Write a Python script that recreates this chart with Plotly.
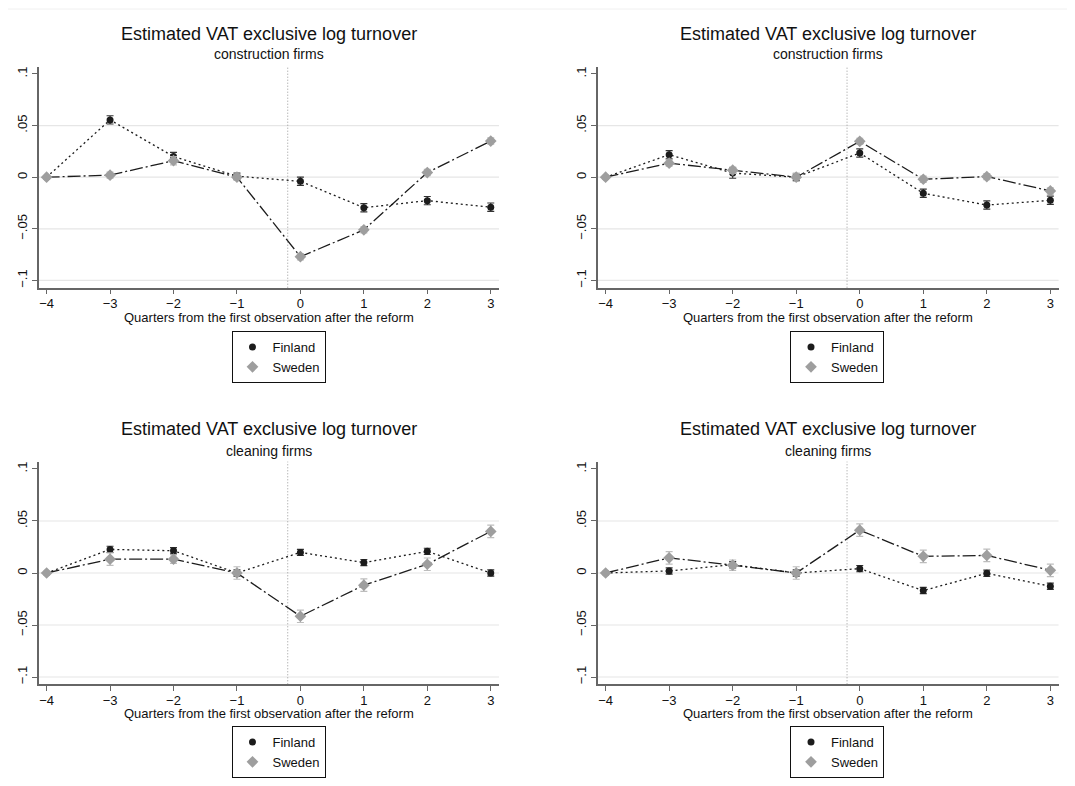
import plotly.graph_objects as go

# ---------------- data ----------------
quarters = [-4, -3, -2, -1, 0, 1, 2, 3]
x_tick_labels = ["\u22124", "\u22123", "\u22122", "\u22121", "0", "1", "2", "3"]
y_tick_values = [-0.1, -0.05, 0, 0.05, 0.1]
y_tick_labels = ["\u2212.1", "\u2212.05", "0", ".05", ".1"]
grid_values = [-0.1, -0.05, 0, 0.05]
reform_line_x = -0.2

titles = ["Estimated VAT exclusive log turnover"] * 4
subtitles = ["construction firms", "construction firms", "cleaning firms", "cleaning firms"]
x_title = "Quarters from the first observation after the reform"
series_names = ["Finland", "Sweden"]

constr_left_fin = [0, 0.0555, 0.020, 0.001, -0.004, -0.0295, -0.0227, -0.029]
constr_left_fin_err = [0, 0.004, 0.004, 0.003, 0.004, 0.004, 0.004, 0.004]
constr_left_swe = [0, 0.002, 0.016, 0.0, -0.077, -0.051, 0.0045, 0.035]
constr_left_swe_err = [0, 0.003, 0.004, 0.003, 0.003, 0.003, 0.003, 0.003]

constr_right_fin = [0, 0.0218, 0.004, 0.0, 0.0234, -0.0156, -0.027, -0.0224]
constr_right_fin_err = [0, 0.004, 0.005, 0.003, 0.004, 0.004, 0.004, 0.004]
constr_right_swe = [0, 0.0136, 0.0068, 0.0, 0.0347, -0.002, 0.0006, -0.0133]
constr_right_swe_err = [0, 0.003, 0.003, 0.004, 0.003, 0.003, 0.003, 0.003]

clean_left_fin = [0, 0.0227, 0.0214, 0.0, 0.0198, 0.010, 0.0208, 0.0]
clean_left_fin_err = [0, 0.003, 0.003, 0.003, 0.003, 0.003, 0.003, 0.003]
clean_left_swe = [0, 0.0133, 0.0133, 0.0, -0.0416, -0.0117, 0.0084, 0.040]
clean_left_swe_err = [0, 0.006, 0.004, 0.006, 0.006, 0.006, 0.006, 0.006]

clean_right_fin = [0, 0.002, 0.008, 0.0, 0.0042, -0.0169, -0.0003, -0.0127]
clean_right_fin_err = [0, 0.003, 0.003, 0.003, 0.003, 0.003, 0.003, 0.003]
clean_right_swe = [0, 0.0146, 0.0075, 0.0, 0.0412, 0.016, 0.0169, 0.0026]
clean_right_swe_err = [0, 0.006, 0.005, 0.006, 0.006, 0.006, 0.006, 0.006]

panels = [
    (constr_left_fin, constr_left_fin_err, constr_left_swe, constr_left_swe_err),
    (constr_right_fin, constr_right_fin_err, constr_right_swe, constr_right_swe_err),
    (clean_left_fin, clean_left_fin_err, clean_left_swe, clean_left_swe_err),
    (clean_right_fin, clean_right_fin_err, clean_right_swe, clean_right_swe_err),
]

# ---------------- layout geometry (page pixels) ----------------
PAGE_OFFSET = 8          # default body margin of the html page
W, H = 1075 - 2 * PAGE_OFFSET, 786 - 2 * PAGE_OFFSET
FONT = "Liberation Sans, Arial, sans-serif"

def px_x(p):
    return (p - PAGE_OFFSET) / W

def px_y(p):
    return 1 - (p - PAGE_OFFSET) / H

# (left, right, top, bottom) of plot areas in page pixels
areas = [
    (39, 499, 66.7, 287.7),
    (598, 1058.6, 66.7, 287.7),
    (39, 499, 461.7, 684.3),
    (598, 1058.6, 461.7, 684.3),
]
title_y = [34, 34, 429, 429]
subtitle_y = [54, 54, 451, 451]
xtitle_y = [317.5, 317.5, 713, 713]
legend_cx = [278.5, 837, 278.5, 837]
legend_top = [331, 331, 726, 726]

FIN_COLOR = "#1c1c1c"
SWE_COLOR = "#9e9e9e"
AXIS_COLOR = "#666666"

fig = go.Figure()
layout = dict(
    width=W, height=H, autosize=False,
    margin=dict(l=0, r=0, t=0, b=0),
    paper_bgcolor="white", plot_bgcolor="white",
    font=dict(family=FONT, size=13, color="#111111"),
    showlegend=True,
)
annotations = []
shapes = []

for i, (fin, fin_err, swe, swe_err) in enumerate(panels):
    n = i + 1
    xa = "x" if n == 1 else f"x{n}"
    ya = "y" if n == 1 else f"y{n}"
    leg = "legend" if n == 1 else f"legend{n}"
    l, r, t, b = areas[i]

    fig.add_trace(go.Scatter(
        x=quarters, y=fin, xaxis=xa, yaxis=ya, mode="lines+markers",
        name=series_names[0], showlegend=False, legend=leg,
        line=dict(color=FIN_COLOR, width=1.3, dash="2px,3px"),
        marker=dict(symbol="circle", size=7, color=FIN_COLOR),
        error_y=dict(type="data", array=fin_err, visible=True,
                     color="#333333", thickness=1.2, width=3.5),
    ))
    fig.add_trace(go.Scatter(
        x=quarters, y=swe, xaxis=xa, yaxis=ya, mode="lines+markers",
        name=series_names[1], showlegend=False, legend=leg,
        line=dict(color=FIN_COLOR, width=1.3, dash="13px,3px,2px,3px"),
        marker=dict(symbol="diamond", size=9, color=SWE_COLOR),
        error_y=dict(type="data", array=swe_err, visible=True,
                     color="#bdbdbd", thickness=1.2, width=3.5),
    ))
    # legend-only entries (marker only, as in the reference legend)
    fig.add_trace(go.Scatter(
        x=[None], y=[None], xaxis=xa, yaxis=ya, mode="markers",
        name=series_names[0], legend=leg, showlegend=True,
        marker=dict(symbol="circle", size=7, color=FIN_COLOR),
    ))
    fig.add_trace(go.Scatter(
        x=[None], y=[None], xaxis=xa, yaxis=ya, mode="markers",
        name=series_names[1], legend=leg, showlegend=True,
        marker=dict(symbol="diamond", size=9, color=SWE_COLOR),
    ))

    xkey = "xaxis" if n == 1 else f"xaxis{n}"
    ykey = "yaxis" if n == 1 else f"yaxis{n}"
    layout[xkey] = dict(
        domain=[px_x(l), px_x(r)], anchor=ya, range=[-4.12, 3.13],
        tickmode="array", tickvals=quarters, ticktext=x_tick_labels,
        ticks="outside", ticklen=5, tickcolor=AXIS_COLOR, tickwidth=1,
        ticklabelstandoff=-2,
        showline=True, linecolor=AXIS_COLOR, linewidth=1.5,
        showgrid=False, zeroline=False,
        tickfont=dict(family=FONT, size=13, color="#111111"),
    )
    layout[ykey] = dict(
        domain=[px_y(b), px_y(t)], anchor=xa, range=[-0.107, 0.107],
        tickmode="array", tickvals=y_tick_values, ticktext=y_tick_labels,
        tickangle=-90,
        ticks="outside", ticklen=5, tickcolor=AXIS_COLOR, tickwidth=1,
        showline=True, linecolor=AXIS_COLOR, linewidth=1.5,
        showgrid=False, zeroline=False,
        tickfont=dict(family=FONT, size=13, color="#111111"),
    )
    layout[leg] = dict(
        x=px_x(legend_cx[i]), xanchor="center",
        y=px_y(legend_top[i]), yanchor="top",
        bgcolor="white", bordercolor="#111111", borderwidth=1,
        font=dict(family=FONT, size=13, color="#111111"),
        tracegroupgap=0, itemwidth=30,
    )

    # grid lines
    for gv in grid_values:
        shapes.append(dict(
            type="line", xref=f"{xa} domain", yref=ya, x0=0, x1=1, y0=gv, y1=gv,
            line=dict(color="#e6e6e6", width=1.2), layer="below",
        ))
    # reform marker line
    shapes.append(dict(
        type="line", xref=xa, yref=f"{ya} domain", x0=reform_line_x, x1=reform_line_x,
        y0=0, y1=1, line=dict(color="#999999", width=1, dash="1px,2px"), layer="below",
    ))

    cx = (l + r) / 2
    annotations.append(dict(
        text=titles[i], x=px_x(cx), y=px_y(title_y[i]), xref="paper", yref="paper",
        xanchor="center", yanchor="middle", showarrow=False,
        font=dict(family=FONT, size=18, color="#111111"),
    ))
    annotations.append(dict(
        text=subtitles[i], x=px_x(cx), y=px_y(subtitle_y[i]), xref="paper", yref="paper",
        xanchor="center", yanchor="middle", showarrow=False,
        font=dict(family=FONT, size=14, color="#111111"),
    ))
    annotations.append(dict(
        text=x_title, x=px_x(cx), y=px_y(xtitle_y[i]), xref="paper", yref="paper",
        xanchor="center", yanchor="middle", showarrow=False,
        font=dict(family=FONT, size=13, color="#111111"),
    ))

# faint top border line of the original image
shapes.append(dict(type="line", xref="paper", yref="paper", x0=0, x1=1,
                   y0=px_y(9), y1=px_y(9), line=dict(color="#f0f0f0", width=1)))

layout["annotations"] = annotations
layout["shapes"] = shapes
fig.update_layout(**layout)
fig.write_html("out.html")
